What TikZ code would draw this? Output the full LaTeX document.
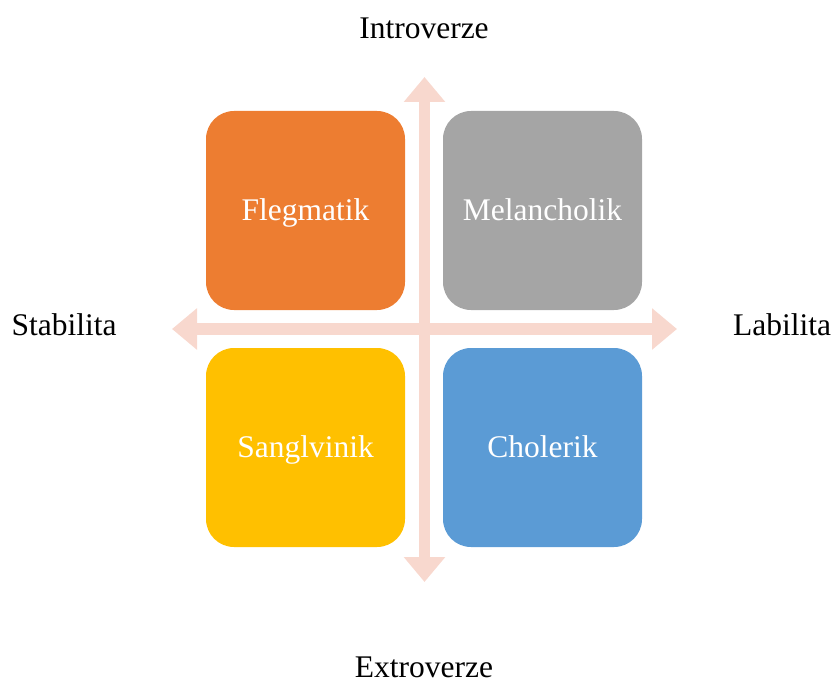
\documentclass[tikz,border=0pt]{standalone}
\usepackage{fontspec}
\setmainfont{Liberation Serif}
\usetikzlibrary{arrows.meta}
\definecolor{cFleg}{HTML}{ED7D31}
\definecolor{cMel}{HTML}{A5A5A5}
\definecolor{cSang}{HTML}{FFC000}
\definecolor{cChol}{HTML}{5B9BD5}
\definecolor{cAxis}{HTML}{F8D8CE}
\begin{document}
\begin{tikzpicture}[x=1pt,y=-1pt,
  quad/.style={rounded corners=28pt, minimum width=199pt, minimum height=199pt,
    inner sep=0pt, text=white, text height=20pt, text depth=0pt,
    font=\fontsize{31.5}{36}\selectfont},
  axislabel/.style={font=\fontsize{31.5}{36}\selectfont, inner sep=0pt},
  axis/.style={draw=cAxis, line width=11.5pt,
    {Triangle[width=40pt,length=25pt]}-{Triangle[width=40pt,length=25pt]}}]
  \useasboundingbox (0,0) rectangle (834,679);
  % axis end points
  \coordinate (top) at (424.5,77);
  \coordinate (bottom) at (424.5,582);
  \coordinate (left) at (172,329);
  \coordinate (right) at (677,329);
  \draw[axis] (top) -- (bottom);
  \draw[axis] (left) -- (right);
  % the four temperaments
  \node[quad, fill=cFleg] (fleg) at (305.5,210.5) {Flegmatik};
  \node[quad, fill=cMel]  (mel)  at (542.5,210.5) {Melancholik};
  \node[quad, fill=cSang] (sang) at (305.5,447.5) {Sanglvinik};
  \node[quad, fill=cChol] (chol) at (542.5,447.5) {Cholerik};
  % axis labels
  \node[axislabel] (intro) at (424,28) {Introverze};
  \node[axislabel] (extro) at (424,667) {Extroverze};
  \node[axislabel] (stab) at (64,325) {Stabilita};
  \node[axislabel] (lab) at (782,325) {Labilita};
\end{tikzpicture}
\end{document}
